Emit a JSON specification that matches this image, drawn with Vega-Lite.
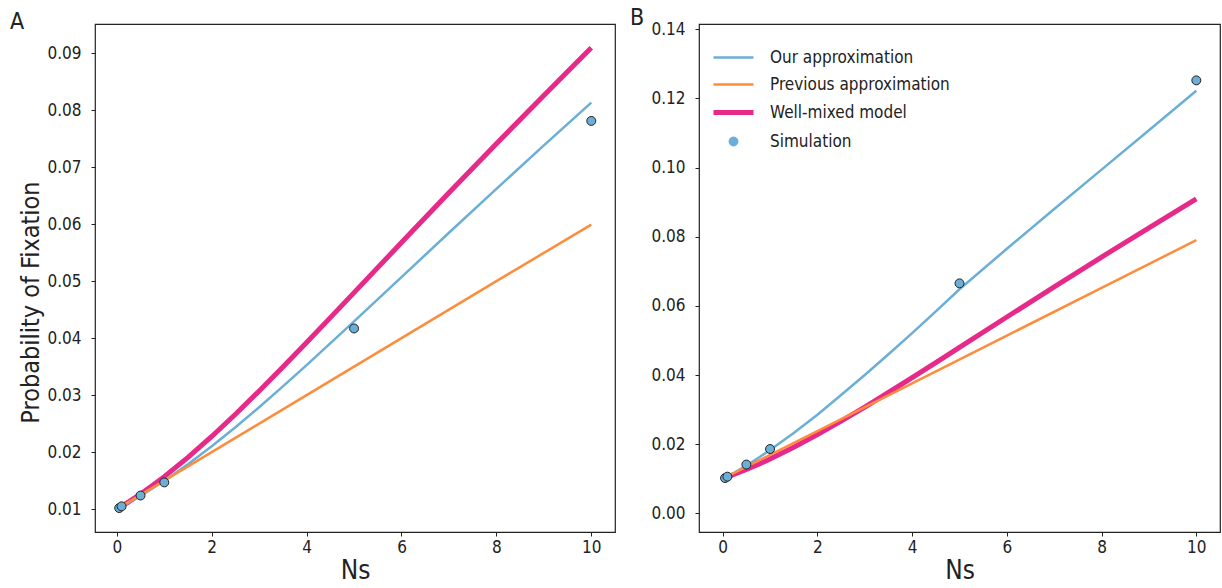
{
  "$schema": "https://vega.github.io/schema/vega-lite/v6.json",
  "padding": {"left": 9, "top": 6, "right": 2, "bottom": 0},
  "config": {
    "font": "DejaVu Sans Condensed, DejaVu Sans",
    "view": {"stroke": "#222", "strokeWidth": 1.2},
    "axis": {"grid": false, "domain": false, "tickColor": "#222", "tickSize": 4, "labelFontSize": 17, "labelColor": "#222", "titleFontWeight": "normal", "titleColor": "#222"}
  },
  "datasets": {
    "A": [
      {"series": "Our approximation", "Ns": 0, "p": 0.0100},
      {"series": "Our approximation", "Ns": 0.25, "p": 0.01113},
      {"series": "Our approximation", "Ns": 0.5, "p": 0.01234},
      {"series": "Our approximation", "Ns": 0.75, "p": 0.01363},
      {"series": "Our approximation", "Ns": 1, "p": 0.01498},
      {"series": "Our approximation", "Ns": 1.5, "p": 0.01789},
      {"series": "Our approximation", "Ns": 2, "p": 0.02103},
      {"series": "Our approximation", "Ns": 2.5, "p": 0.02438},
      {"series": "Our approximation", "Ns": 3, "p": 0.02789},
      {"series": "Our approximation", "Ns": 3.5, "p": 0.03154},
      {"series": "Our approximation", "Ns": 4, "p": 0.03528},
      {"series": "Our approximation", "Ns": 5, "p": 0.04294},
      {"series": "Our approximation", "Ns": 6, "p": 0.05071},
      {"series": "Our approximation", "Ns": 7, "p": 0.05848},
      {"series": "Our approximation", "Ns": 8, "p": 0.06619},
      {"series": "Our approximation", "Ns": 9, "p": 0.07381},
      {"series": "Our approximation", "Ns": 10, "p": 0.08130},
      {"series": "Previous approximation", "Ns": 0, "p": 0.0100},
      {"series": "Previous approximation", "Ns": 2, "p": 0.0200},
      {"series": "Previous approximation", "Ns": 4, "p": 0.0300},
      {"series": "Previous approximation", "Ns": 6, "p": 0.0400},
      {"series": "Previous approximation", "Ns": 8, "p": 0.0500},
      {"series": "Previous approximation", "Ns": 10, "p": 0.0599},
      {"series": "Well-mixed model", "Ns": 0, "p": 0.0100},
      {"series": "Well-mixed model", "Ns": 0.25, "p": 0.01129},
      {"series": "Well-mixed model", "Ns": 0.5, "p": 0.01267},
      {"series": "Well-mixed model", "Ns": 0.75, "p": 0.01414},
      {"series": "Well-mixed model", "Ns": 1, "p": 0.01571},
      {"series": "Well-mixed model", "Ns": 1.5, "p": 0.01909},
      {"series": "Well-mixed model", "Ns": 2, "p": 0.02275},
      {"series": "Well-mixed model", "Ns": 2.5, "p": 0.02665},
      {"series": "Well-mixed model", "Ns": 3, "p": 0.03073},
      {"series": "Well-mixed model", "Ns": 3.5, "p": 0.03494},
      {"series": "Well-mixed model", "Ns": 4, "p": 0.03924},
      {"series": "Well-mixed model", "Ns": 4.5, "p": 0.04360},
      {"series": "Well-mixed model", "Ns": 5, "p": 0.04798},
      {"series": "Well-mixed model", "Ns": 6, "p": 0.05677},
      {"series": "Well-mixed model", "Ns": 7, "p": 0.06550},
      {"series": "Well-mixed model", "Ns": 8, "p": 0.07411},
      {"series": "Well-mixed model", "Ns": 9, "p": 0.08258},
      {"series": "Well-mixed model", "Ns": 10, "p": 0.09092},
      {"series": "Simulation", "Ns": 0.05, "p": 0.0102},
      {"series": "Simulation", "Ns": 0.1, "p": 0.0105},
      {"series": "Simulation", "Ns": 0.5, "p": 0.0124},
      {"series": "Simulation", "Ns": 1, "p": 0.0147},
      {"series": "Simulation", "Ns": 5, "p": 0.0417},
      {"series": "Simulation", "Ns": 10, "p": 0.0781}
    ],
    "B": [
      {"series": "Our approximation", "Ns": 0, "p": 0.0100},
      {"series": "Our approximation", "Ns": 0.05, "p": 0.0103},
      {"series": "Our approximation", "Ns": 0.1, "p": 0.0107},
      {"series": "Our approximation", "Ns": 0.25, "p": 0.0118},
      {"series": "Our approximation", "Ns": 0.5, "p": 0.0138},
      {"series": "Our approximation", "Ns": 0.75, "p": 0.0160},
      {"series": "Our approximation", "Ns": 1, "p": 0.0183},
      {"series": "Our approximation", "Ns": 1.5, "p": 0.0232},
      {"series": "Our approximation", "Ns": 2, "p": 0.0285},
      {"series": "Our approximation", "Ns": 2.5, "p": 0.0342},
      {"series": "Our approximation", "Ns": 3, "p": 0.0400},
      {"series": "Our approximation", "Ns": 3.5, "p": 0.0460},
      {"series": "Our approximation", "Ns": 4, "p": 0.0521},
      {"series": "Our approximation", "Ns": 4.5, "p": 0.0584},
      {"series": "Our approximation", "Ns": 5, "p": 0.0648},
      {"series": "Our approximation", "Ns": 6, "p": 0.0765},
      {"series": "Our approximation", "Ns": 7, "p": 0.0880},
      {"series": "Our approximation", "Ns": 8, "p": 0.0994},
      {"series": "Our approximation", "Ns": 9, "p": 0.1108},
      {"series": "Our approximation", "Ns": 10, "p": 0.1222},
      {"series": "Previous approximation", "Ns": 0, "p": 0.0100},
      {"series": "Previous approximation", "Ns": 2, "p": 0.0238},
      {"series": "Previous approximation", "Ns": 4, "p": 0.0376},
      {"series": "Previous approximation", "Ns": 6, "p": 0.0514},
      {"series": "Previous approximation", "Ns": 8, "p": 0.0652},
      {"series": "Previous approximation", "Ns": 10, "p": 0.0790},
      {"series": "Well-mixed model", "Ns": 0, "p": 0.0100},
      {"series": "Well-mixed model", "Ns": 0.25, "p": 0.01129},
      {"series": "Well-mixed model", "Ns": 0.5, "p": 0.01267},
      {"series": "Well-mixed model", "Ns": 0.75, "p": 0.01414},
      {"series": "Well-mixed model", "Ns": 1, "p": 0.01571},
      {"series": "Well-mixed model", "Ns": 1.5, "p": 0.01909},
      {"series": "Well-mixed model", "Ns": 2, "p": 0.02275},
      {"series": "Well-mixed model", "Ns": 2.5, "p": 0.02665},
      {"series": "Well-mixed model", "Ns": 3, "p": 0.03073},
      {"series": "Well-mixed model", "Ns": 3.5, "p": 0.03494},
      {"series": "Well-mixed model", "Ns": 4, "p": 0.03924},
      {"series": "Well-mixed model", "Ns": 4.5, "p": 0.04360},
      {"series": "Well-mixed model", "Ns": 5, "p": 0.04798},
      {"series": "Well-mixed model", "Ns": 6, "p": 0.05677},
      {"series": "Well-mixed model", "Ns": 7, "p": 0.06550},
      {"series": "Well-mixed model", "Ns": 8, "p": 0.07411},
      {"series": "Well-mixed model", "Ns": 9, "p": 0.08258},
      {"series": "Well-mixed model", "Ns": 10, "p": 0.09092},
      {"series": "Simulation", "Ns": 0.05, "p": 0.0102},
      {"series": "Simulation", "Ns": 0.1, "p": 0.0106},
      {"series": "Simulation", "Ns": 0.5, "p": 0.0141},
      {"series": "Simulation", "Ns": 1, "p": 0.0186},
      {"series": "Simulation", "Ns": 5, "p": 0.0665},
      {"series": "Simulation", "Ns": 10, "p": 0.1252}
    ]
  },
  "spacing": 13,
  "resolve": {"scale": {"color": "independent"}, "legend": {"color": "independent"}},
  "hconcat": [
    {
      "width": 520,
      "height": 508,
      "title": {"text": "A", "anchor": "start", "frame": "bounds", "fontSize": 23, "fontWeight": "normal", "color": "#222", "baseline": "alphabetic", "offset": -28, "dx": -9},
      "data": {"name": "A"},
      "encoding": {
        "x": {"field": "Ns", "type": "quantitative", "scale": {"domain": [-0.46, 10.5], "nice": false, "zero": false},
              "axis": {"values": [0, 2, 4, 6, 8, 10], "format": "d", "title": "Ns", "titleFontSize": 26, "labelPadding": 3, "titlePadding": 2}},
        "y": {"field": "p", "type": "quantitative", "scale": {"domain": [0.006, 0.0951], "nice": false, "zero": false},
              "axis": {"values": [0.01, 0.02, 0.03, 0.04, 0.05, 0.06, 0.07, 0.08, 0.09], "format": ".2f", "title": "Probability of Fixation", "titleFontSize": 25, "titleY": 278, "labelPadding": 10, "titlePadding": 3}},
        "color": {"field": "series", "type": "nominal",
                  "scale": {"domain": ["Our approximation", "Previous approximation", "Well-mixed model", "Simulation"], "range": ["#6baed6", "#fd8d3c", "#e7298a", "#6baed6"]},
                  "legend": null}
      },
      "layer": [
        {"transform": [{"filter": "datum.series === 'Well-mixed model'"}], "mark": {"type": "line", "strokeWidth": 5}},
        {"transform": [{"filter": "datum.series === 'Our approximation' || datum.series === 'Previous approximation'"}], "mark": {"type": "line", "strokeWidth": 2.5}},
        {"transform": [{"filter": "datum.series === 'Simulation'"}], "mark": {"type": "point", "filled": true, "size": 80, "stroke": "#222", "strokeWidth": 1, "opacity": 1}}
      ]
    },
    {
      "width": 521,
      "height": 508,
      "title": {"text": "B", "anchor": "start", "frame": "bounds", "fontSize": 23, "fontWeight": "normal", "color": "#222", "baseline": "alphabetic", "offset": -28, "dx": -21},
      "data": {"name": "B"},
      "encoding": {
        "x": {"field": "Ns", "type": "quantitative", "scale": {"domain": [-0.5, 10.5], "nice": false, "zero": false},
              "axis": {"values": [0, 2, 4, 6, 8, 10], "format": "d", "title": "Ns", "titleFontSize": 26, "labelPadding": 3, "titlePadding": 2}},
        "y": {"field": "p", "type": "quantitative", "scale": {"domain": [-0.0054, 0.1415], "nice": false, "zero": false},
              "axis": {"values": [0, 0.02, 0.04, 0.06, 0.08, 0.1, 0.12, 0.14], "format": ".2f", "title": null, "labelPadding": 10}},
        "color": {"field": "series", "type": "nominal",
                  "scale": {"domain": ["Our approximation", "Previous approximation", "Well-mixed model", "Simulation"], "range": ["#6baed6", "#fd8d3c", "#e7298a", "#6baed6"]},
                  "legend": {
                    "orient": "top-left", "title": null, "offset": 20, "padding": 5,
                    "labelFontSize": 17, "labelColor": "#222", "labelOffset": 28, "labelLimit": 0, "symbolOffset": 1,
                    "rowPadding": 9, "symbolSize": 100, "symbolStrokeWidth": 1.5,
                    "encode": {"symbols": {"update": {
                      "shape": {"signal": "datum.value === 'Simulation' ? 'circle' : 'stroke'"},
                      "size": {"signal": "datum.value === 'Simulation' ? 80 : 1600"},
                      "strokeWidth": {"signal": "datum.value === 'Well-mixed model' ? 5 : (datum.value === 'Simulation' ? 1 : 2.5)"},
                      "stroke": {"signal": "datum.value === 'Simulation' ? '#222' : (datum.value === 'Our approximation' ? '#6baed6' : (datum.value === 'Previous approximation' ? '#fd8d3c' : '#e7298a'))"},
                      "fill": {"signal": "datum.value === 'Simulation' ? '#6baed6' : 'transparent'"},
                      "opacity": {"value": 1}
                    }}}
                  }}
      },
      "layer": [
        {"transform": [{"filter": "datum.series === 'Well-mixed model'"}], "mark": {"type": "line", "strokeWidth": 5}},
        {"transform": [{"filter": "datum.series === 'Our approximation' || datum.series === 'Previous approximation'"}], "mark": {"type": "line", "strokeWidth": 2.5}},
        {"transform": [{"filter": "datum.series === 'Simulation'"}], "mark": {"type": "point", "filled": true, "size": 80, "stroke": "#222", "strokeWidth": 1, "opacity": 1}}
      ]
    }
  ]
}
